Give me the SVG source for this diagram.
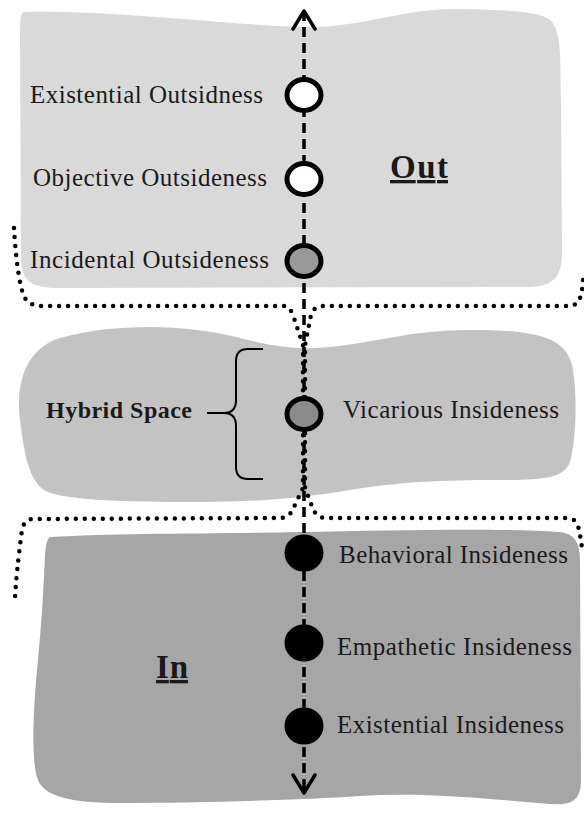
<svg xmlns="http://www.w3.org/2000/svg" width="584" height="813" viewBox="0 0 584 813">
  <defs>
    <style>
      .zone-out { fill: #d9d9d9; }
      .zone-hybrid { fill: #c3c3c3; }
      .zone-in { fill: #a6a6a6; }
      .axis { fill: none; stroke: #000; stroke-width: 3.5; stroke-dasharray: 10 6; }
      .dots { fill: none; stroke: #000; stroke-width: 4.5; stroke-dasharray: 0 9; stroke-linecap: round; stroke-linejoin: round; }
      .brace { fill: none; stroke: #000; stroke-width: 2; }
      .node { stroke: #000; stroke-width: 5; }
      .lbl { font-family: "Liberation Serif", "Times New Roman", serif; font-size: 25px; fill: #1a1a1a; }
      .title { font-family: "Liberation Serif", "Times New Roman", serif; font-size: 33px; font-weight: bold; fill: #1a1a1a; text-decoration: underline; }
      .hyb { font-family: "Liberation Serif", "Times New Roman", serif; font-size: 24px; font-weight: bold; fill: #1a1a1a; }
    </style>
    <marker id="chev" markerUnits="userSpaceOnUse" markerWidth="26" markerHeight="26" viewBox="-3 -13 26 26" refX="18" refY="0" orient="auto-start-reverse">
      <path d="M 0,-11 L 18,0 L 0,11" fill="none" stroke="#000" stroke-width="3.5" stroke-dasharray="none" stroke-linejoin="round" stroke-linecap="round"/>
    </marker>
  </defs>

  <!-- background zones -->
  <g id="zones">
    <path id="zone-out" class="zone-out" d="M 24,12 C 110,10 220,24 300,27 C 360,29 400,8 460,9 C 510,10 545,12 552,22 C 562,36 560,60 561,100 L 562,250 C 562,275 556,286 530,287 L 60,288 C 32,288 22,282 21,260 L 20,40 C 20,20 20,13 24,12 Z"/>
    <path id="zone-hybrid" class="zone-hybrid" d="M 60,338 C 120,322 190,325 240,338 C 275,347 300,350 330,347 C 380,342 410,330 470,330 C 530,330 565,335 572,365 C 578,395 576,440 570,462 C 564,478 545,480 500,480 C 440,480 400,482 350,490 C 300,498 260,502 200,502 C 120,502 70,500 48,492 C 28,484 24,450 20,420 C 16,390 22,350 60,338 Z"/>
    <path id="zone-in" class="zone-in" d="M 50,537 C 120,533 200,534 300,532 C 400,530 500,528 560,532 C 576,534 580,545 580,560 L 581,780 C 581,800 572,806 550,804 C 480,798 420,792 360,796 C 300,800 200,803 120,803 C 70,803 44,796 38,780 C 30,760 34,700 38,660 C 42,620 44,580 45,555 C 46,542 48,538 50,537 Z"/>
  </g>

  <!-- boundaries, axis and brace -->
  <g id="connectors">
    <path class="dots" d="M 14,228 C 16,262 20,288 24,296 Q 28,306 42,306 L 284,306 Q 290,307 293,315 L 303,345 L 303,488 L 293,509 Q 289,518 280,518 L 34,519 Q 24,519 22,530 C 18,560 16,580 15,598"/>
    <path class="dots" d="M 583,280 C 582,292 581,300 576,304 Q 572,306 564,306 L 320,306 Q 314,307 311,315 L 305,345 L 305,488 L 313,509 Q 317,518 326,518 L 566,518 Q 576,518 578,526 C 580,534 581,540 582,548"/>
    <line class="axis" x1="304" y1="11" x2="304" y2="793" marker-start="url(#chev)" marker-end="url(#chev)"/>
    <path class="brace" d="M 263,349 L 248,349 Q 236,349 236,361 L 236,400 Q 236,413 224,413 Q 236,413 236,426 L 236,467 Q 236,479 248,479 L 263,479"/>
    <line class="brace" x1="207" y1="413" x2="226" y2="413"/>
  </g>

  <g id="existential-outsideness">
    <ellipse class="node" cx="304" cy="95" rx="17" ry="15.5" fill="#ffffff"/>
    <text class="lbl" x="30" y="103" textLength="233">Existential Outsidness</text>
  </g>
  <g id="objective-outsideness">
    <ellipse class="node" cx="304" cy="179" rx="17" ry="15.5" fill="#ffffff"/>
    <text class="lbl" x="33" y="186" textLength="234">Objective Outsideness</text>
  </g>
  <g id="incidental-outsideness">
    <ellipse class="node" cx="304" cy="261" rx="17" ry="15.5" fill="#999999"/>
    <text class="lbl" x="30" y="268" textLength="239">Incidental Outsideness</text>
  </g>
  <g id="out-label">
    <text class="title" x="390" y="178" textLength="58">Out</text>
  </g>

  <g id="hybrid-space">
    <text class="hyb" x="46" y="418" textLength="146">Hybrid Space</text>
  </g>
  <g id="vicarious-insideness">
    <ellipse class="node" cx="304" cy="414" rx="17" ry="15.5" fill="#8a8a8a"/>
    <text class="lbl" x="343" y="418" textLength="216">Vicarious Insideness</text>
  </g>

  <g id="behavioral-insideness">
    <ellipse class="node" cx="304" cy="553" rx="17" ry="16" fill="#000000"/>
    <text class="lbl" x="339" y="563" textLength="229">Behavioral Insideness</text>
  </g>
  <g id="empathetic-insideness">
    <ellipse class="node" cx="304" cy="643" rx="17" ry="16" fill="#000000"/>
    <text class="lbl" x="337" y="655" textLength="235">Empathetic Insideness</text>
  </g>
  <g id="existential-insideness">
    <ellipse class="node" cx="304" cy="726" rx="17" ry="16" fill="#000000"/>
    <text class="lbl" x="337" y="733" textLength="227">Existential Insideness</text>
  </g>
  <g id="in-label">
    <text class="title" x="156" y="678" textLength="32">In</text>
  </g>
</svg>
